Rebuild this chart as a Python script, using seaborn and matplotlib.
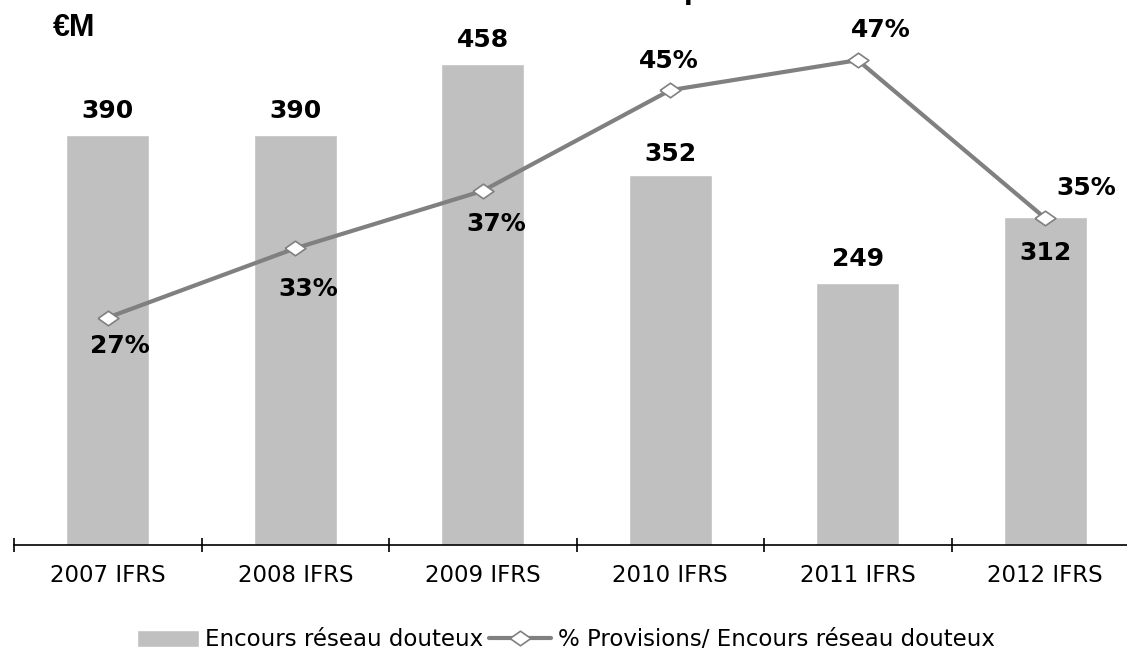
import matplotlib
matplotlib.use("Agg")
import matplotlib.pyplot as plt
import numpy as np
import seaborn as sns

# values
categories = ["2007 IFRS", "2008 IFRS", "2009 IFRS", "2010 IFRS", "2011 IFRS", "2012 IFRS"]
encours = [390, 390, 458, 352, 249, 312]
provisions_pct = [27.3, 32.6, 37.0, 44.7, 47.0, 34.9]

bar_label = "Encours réseau douteux"
line_label = "% Provisions/ Encours réseau douteux"

# label placement (pixel offsets from bar top / marker)
bar_label_dy = [17, 17, 17, 14, 17, -43]
pct_label_offsets = [(12, -35), (13, -48), (14, -40), (-1, 22), (23, 23), (41, 23)]

sns.set_theme(style="white")
plt.rcParams["font.family"] = ["DejaVu Sans"]
plt.rcParams["text.color"] = "black"

BAR_COLOR = "#C0C0C0"
LINE_COLOR = "#808080"

fig = plt.figure(figsize=(11.27, 6.5), dpi=100)
ax = fig.add_axes([14 / 1127, 105 / 650, 1125 / 1127, 505 / 650])

x = np.arange(len(categories))
sns.barplot(x=x, y=encours, color=BAR_COLOR, saturation=1, width=0.443, ax=ax)
ax.set_xlim(-0.5, len(categories) - 0.5)
ax.set_ylim(0, 480.4)
ax.set_xlabel("")
ax.set_ylabel("")

for s in ["top", "left", "right"]:
    ax.spines[s].set_visible(False)
ax.spines["bottom"].set_color("black")
ax.spines["bottom"].set_linewidth(1.2)
ax.set_yticks([])
ax.set_xticks(x)
ax.set_xticklabels(categories, fontsize=16.5, color="black")
ax.tick_params(axis="x", which="major", bottom=True, length=0, pad=14)
ax.set_xticks(np.arange(-0.5, len(categories), 1), minor=True)
ax.tick_params(axis="x", which="minor", bottom=True, length=10, width=1.2,
               direction="inout", color="black")

for i, v in enumerate(encours):
    ax.annotate(str(v), xy=(i, v), xytext=(0, bar_label_dy[i]), textcoords="offset pixels",
                ha="center", va="baseline", fontsize=18, fontweight="bold", color="black")

ax2 = ax.twinx()
ax2.set_ylim(9.9, 48.54)
diamond = [(-1, 0), (0, 0.7), (1, 0), (0, -0.7), (-1, 0)]
sns.lineplot(x=x, y=provisions_pct, ax=ax2, color=LINE_COLOR, linewidth=3,
             marker=diamond, markersize=15, markerfacecolor="white",
             markeredgecolor=LINE_COLOR, markeredgewidth=1.2)
ax2.set_yticks([])
ax2.set_ylabel("")
for s in ax2.spines.values():
    s.set_visible(False)

for i, v in enumerate(provisions_pct):
    dx, dy = pct_label_offsets[i]
    ax2.annotate(f"{round(v)}%", xy=(i, v), xytext=(dx, dy), textcoords="offset pixels",
                 ha="center", va="baseline", fontsize=18, fontweight="bold", color="black")

fig.text(53 / 1127, (650 - 36) / 650, "€M", fontsize=22, fontweight="bold", color="black",
         family=["Liberation Sans", "DejaVu Sans"], ha="left", va="baseline")
# cut-off title at the top edge
fig.text(684 / 1127, 1.0, "p", fontsize=18, fontweight="bold", color="black",
         ha="left", va="baseline")

handles = [ax.patches[0], ax2.get_lines()[0]]
fig.legend(handles, [bar_label, line_label], loc="center", bbox_to_anchor=(0.502, 10 / 650),
           ncol=2, frameon=False, fontsize=16.5, handlelength=2.7, handletextpad=0.3,
           columnspacing=0.25, borderaxespad=0, labelcolor="black")

fig.savefig("out.png", dpi=100)
